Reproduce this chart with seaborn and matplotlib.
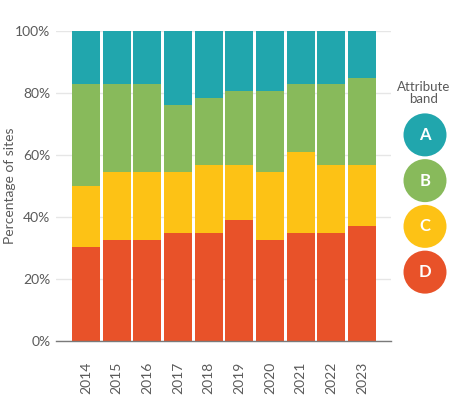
import numpy as np
import pandas as pd
import matplotlib
matplotlib.use("Agg")
import matplotlib.pyplot as plt
import seaborn as sns

years = ["2014", "2015", "2016", "2017", "2018", "2019", "2020", "2021", "2022", "2023"]
band_d = [30.3, 32.7, 32.7, 34.8, 34.8, 39.1, 32.7, 34.8, 34.8, 37.0]
band_c = [19.8, 21.7, 21.7, 19.7, 21.9, 17.6, 21.8, 26.2, 21.9, 19.7]
band_b = [32.7, 28.4, 28.4, 21.6, 21.7, 23.9, 26.1, 21.8, 26.1, 28.2]
band_a = [17.2, 17.2, 17.2, 23.9, 21.6, 19.4, 19.4, 17.2, 17.2, 15.1]

bands = ["A", "B", "C", "D"]
band_colors = {"A": "#21a6ad", "B": "#88ba5b", "C": "#fdc215", "D": "#e85229"}

df = pd.DataFrame({"year": years, "D": band_d, "C": band_c, "B": band_b, "A": band_a})
# cumulative tops, drawn back to front
df["top_D"] = df["D"]
df["top_C"] = df["top_D"] + df["C"]
df["top_B"] = df["top_C"] + df["B"]
df["top_A"] = df["top_B"] + df["A"]

sns.set_style("white")
plt.rcParams["font.family"] = ["Lato", "DejaVu Sans"]
grey = "#5a5a5a"

fig = plt.figure(figsize=(4.51, 3.98), dpi=100)
ax = fig.add_axes([56 / 451, (398 - 341) / 398, (391 - 56) / 451, (341 - 31) / 398])

for b in bands:
    sns.barplot(data=df, x="year", y="top_" + b, color=band_colors[b], width=0.91,
                saturation=1, linewidth=0, ax=ax, zorder=2)

ax.set_xlim(-0.98, 9.95)
ax.set_ylim(0, 100)
ax.set_yticks([0, 20, 40, 60, 80, 100])
ax.set_yticklabels([f"{v}%" for v in [0, 20, 40, 60, 80, 100]])
ax.yaxis.grid(True, color="#e6e6e6", linewidth=1, zorder=0)
ax.set_axisbelow(True)
ax.tick_params(axis="y", length=0, pad=4, labelsize=10, labelcolor=grey)
ax.tick_params(axis="x", length=0, pad=15, labelsize=10, labelcolor=grey, rotation=90)
ax.set_xlabel("")
ax.set_ylabel("Percentage of sites", fontsize=10, color=grey, va="center")
ax.yaxis.set_label_coords(-0.137, 0.5)
for s in ["top", "right", "left"]:
    ax.spines[s].set_visible(False)
ax.spines["bottom"].set_color("#7a7a7a")
ax.spines["bottom"].set_linewidth(1)
ax.spines["bottom"].set_zorder(5)

# legend of coloured discs
lax = fig.add_axes([400 / 451, (398 - 295) / 398, 50 / 451, (295 - 112) / 398])
ypos = np.arange(len(bands))[::-1]
lax.scatter([0] * len(bands), ypos, s=958, c=[band_colors[b] for b in bands], linewidths=0)
for b, y in zip(bands, ypos):
    lax.text(0, y, b, ha="center", va="center", color="white", fontsize=12, fontweight="bold")
lax.set_xlim(-0.5, 0.5)
lax.set_ylim(-0.5, 3.5)
lax.axis("off")
fig.text(424 / 451, (398 - 93) / 398, "Attribute\nband", ha="center", va="center",
         fontsize=9.5, color=grey, linespacing=0.95)

fig.savefig("out.png", dpi=100)
